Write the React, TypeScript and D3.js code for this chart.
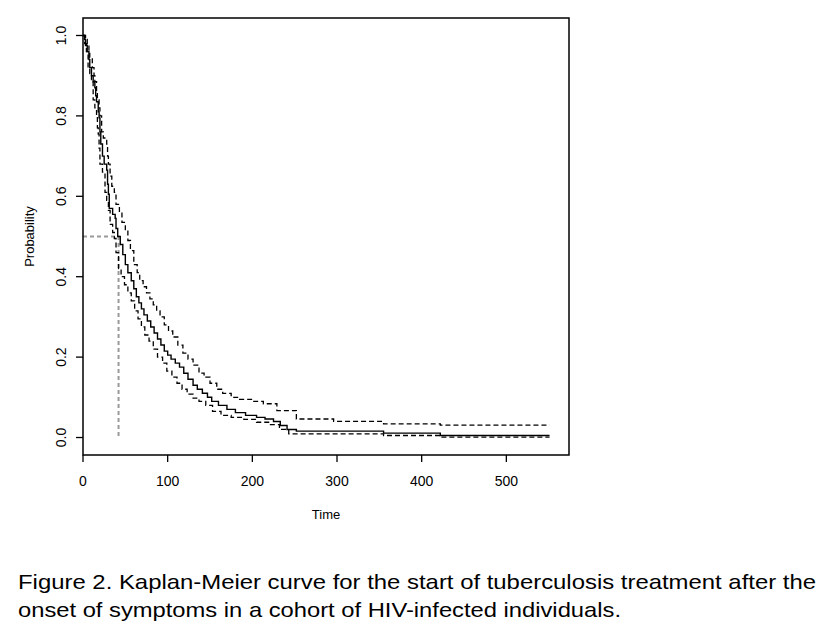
import React from "react";
import * as d3 from "d3";

// Kaplan-Meier estimate (step drops at the given times)
const kmTimes = [0, 2, 3, 5, 7, 8, 10, 12, 14, 15, 16, 18, 19, 20, 21, 23, 25, 28, 29, 30, 31, 35, 38, 39, 41, 44, 47, 50, 53, 57, 60, 63, 66, 69, 72, 76, 80, 84, 88, 92, 96, 100, 104, 109, 114, 119, 124, 130, 135, 141, 147, 152, 160, 170, 180, 192, 205, 215, 225, 233, 241, 252, 355, 422, 551];
const kmSurv = [1.0, 0.99, 0.975, 0.96, 0.94, 0.92, 0.9, 0.885, 0.87, 0.85, 0.835, 0.81, 0.795, 0.76, 0.73, 0.7, 0.68, 0.665, 0.63, 0.605, 0.57, 0.555, 0.545, 0.52, 0.5, 0.48, 0.455, 0.43, 0.41, 0.39, 0.37, 0.35, 0.335, 0.32, 0.305, 0.29, 0.275, 0.26, 0.245, 0.23, 0.215, 0.205, 0.195, 0.185, 0.175, 0.16, 0.145, 0.13, 0.12, 0.11, 0.1, 0.09, 0.08, 0.07, 0.062, 0.055, 0.05, 0.046, 0.04, 0.03, 0.02, 0.016, 0.011, 0.005, 0.005];

// Upper 95% confidence limit
const upperTimes = [0, 3, 5, 7, 8, 11, 13, 14, 16, 17, 19, 20, 22, 24, 28, 29, 30, 32, 34, 37, 39, 43, 46, 50, 53, 56, 60, 64, 67, 71, 75, 79, 83, 87, 91, 96, 101, 106, 112, 118, 124, 130, 137, 143, 150, 158, 165, 175, 185, 200, 213, 229, 252, 296, 355, 422, 551];
const upperSurv = [1.0, 0.99, 0.975, 0.96, 0.945, 0.92, 0.9, 0.885, 0.86, 0.84, 0.82, 0.8, 0.76, 0.745, 0.73, 0.7, 0.68, 0.65, 0.625, 0.61, 0.58, 0.56, 0.535, 0.515, 0.49, 0.465, 0.43, 0.41, 0.39, 0.375, 0.36, 0.345, 0.33, 0.315, 0.3, 0.28, 0.265, 0.25, 0.23, 0.21, 0.195, 0.18, 0.16, 0.15, 0.135, 0.12, 0.11, 0.1, 0.095, 0.09, 0.084, 0.067, 0.046, 0.04, 0.034, 0.031, 0.031];

// Lower 95% confidence limit
const lowerTimes = [0, 2, 4, 6, 8, 10, 12, 14, 16, 17, 18, 19, 20, 23, 26, 28, 30, 32, 35, 37, 39, 42, 45, 49, 53, 57, 61, 65, 69, 73, 78, 83, 88, 94, 99, 105, 111, 117, 123, 130, 137, 145, 153, 163, 175, 190, 205, 220, 232, 243, 355, 422, 551];
const lowerSurv = [1.0, 0.98, 0.96, 0.92, 0.905, 0.89, 0.84, 0.82, 0.8, 0.77, 0.755, 0.72, 0.68, 0.66, 0.61, 0.59, 0.565, 0.53, 0.51, 0.495, 0.46, 0.42, 0.4, 0.38, 0.36, 0.34, 0.315, 0.295, 0.275, 0.255, 0.24, 0.22, 0.2, 0.185, 0.165, 0.15, 0.135, 0.12, 0.108, 0.098, 0.09, 0.08, 0.065, 0.055, 0.05, 0.045, 0.038, 0.032, 0.02, 0.009, 0.005, 0.001, 0.001];

const medianTime = 42;
const medianProb = 0.5;

const xTicks = [0, 100, 200, 300, 400, 500];
const yTicks = [0, 0.2, 0.4, 0.6, 0.8, 1.0];

const captionLine1 = "Figure 2. Kaplan-Meier curve for the start of tuberculosis treatment after the";
const captionLine2 = "onset of symptoms in a cohort of HIV-infected individuals.";

const W = 831;
const H = 642;
const box = { left: 83, right: 569, top: 18, bottom: 455 };

export default function App() {
  const x = d3.scaleLinear().domain([0, 574]).range([box.left, box.right]);
  const y = d3.scaleLinear().domain([-0.0435, 1.0435]).range([box.bottom, box.top]);

  const line = d3
    .line<[number, number]>()
    .x((d) => x(d[0]))
    .y((d) => y(d[1]))
    .curve(d3.curveStepAfter);

  const toPts = (t: number[], s: number[]) => t.map((v, i) => [v, s[i]] as [number, number]);

  const font = "'Liberation Sans', Arial, sans-serif";

  return (
    <svg
      width={W}
      height={H}
      style={{ position: "absolute", left: 0, top: 0, background: "#fff" }}
      fontFamily={font}
    >
      <rect x={0} y={0} width={W} height={H} fill="#fff" />

      {/* median reference lines */}
      <path
        d={`M${x(0)},${y(medianProb)}H${x(medianTime)}V${y(0)}`}
        fill="none"
        stroke="#9a9a9a"
        strokeWidth={2}
        strokeDasharray="4,3"
      />

      {/* confidence limits */}
      <path d={line(toPts(upperTimes, upperSurv)) || ""} fill="none" stroke="#000" strokeWidth={1.3} strokeDasharray="5,3" />
      <path d={line(toPts(lowerTimes, lowerSurv)) || ""} fill="none" stroke="#000" strokeWidth={1.3} strokeDasharray="5,3" />

      {/* KM estimate */}
      <path d={line(toPts(kmTimes, kmSurv)) || ""} fill="none" stroke="#000" strokeWidth={1.4} />

      {/* box */}
      <rect
        x={box.left}
        y={box.top}
        width={box.right - box.left}
        height={box.bottom - box.top}
        fill="none"
        stroke="#000"
        strokeWidth={1.5}
      />

      {/* x axis */}
      {xTicks.map((t) => (
        <g key={"x" + t}>
          <line x1={x(t)} x2={x(t)} y1={box.bottom} y2={box.bottom + 7} stroke="#000" strokeWidth={1.3} />
          <text x={x(t)} y={481} textAnchor="middle" dominantBaseline="central" fontSize={14} fill="#000">
            {t}
          </text>
        </g>
      ))}
      <text x={(box.left + box.right) / 2} y={514} textAnchor="middle" dominantBaseline="central" fontSize={13} fill="#000">
        Time
      </text>

      {/* y axis */}
      {yTicks.map((t) => (
        <g key={"y" + t}>
          <line x1={box.left - 7} x2={box.left} y1={y(t)} y2={y(t)} stroke="#000" strokeWidth={1.3} />
          <text
            transform={`translate(${61},${y(t)}) rotate(-90)`}
            textAnchor="middle"
            dominantBaseline="central"
            fontSize={14}
            fill="#000"
          >
            {t.toFixed(1)}
          </text>
        </g>
      ))}
      <text
        transform={`translate(${29},${(box.top + box.bottom) / 2}) rotate(-90)`}
        textAnchor="middle"
        dominantBaseline="central"
        fontSize={13}
        fill="#000"
      >
        Probability
      </text>

      {/* caption */}
      <text x={18} y={589} fontSize={21} fill="#000" textLength={798} lengthAdjust="spacingAndGlyphs">
        {captionLine1}
      </text>
      <text x={18} y={617} fontSize={21} fill="#000" textLength={603} lengthAdjust="spacingAndGlyphs">
        {captionLine2}
      </text>
    </svg>
  );
}
